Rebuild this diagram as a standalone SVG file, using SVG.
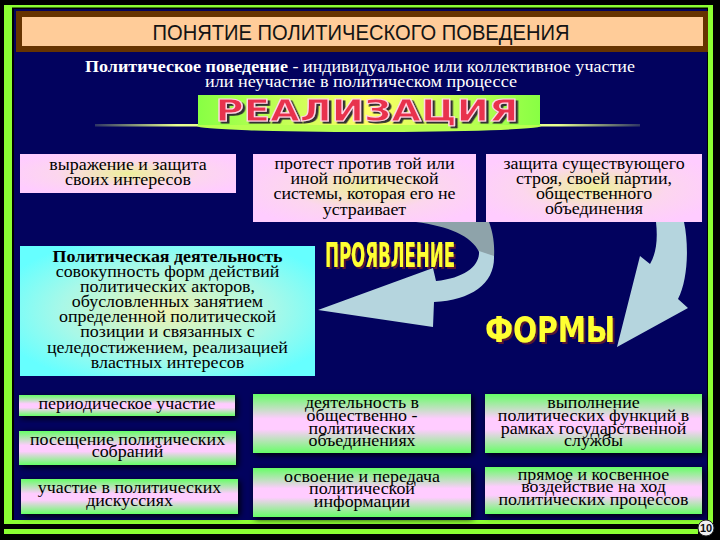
<svg xmlns="http://www.w3.org/2000/svg" width="720" height="540" viewBox="0 0 720 540">
<defs>
<style>
.sv{font-family:"Liberation Serif","Times New Roman",serif;font-size:16px;fill:#000;text-anchor:middle}
.b{font-weight:bold}
.wt{font-family:"Liberation Serif","Times New Roman",serif;font-size:17.5px;fill:#fff;text-anchor:middle}
.yl{font-family:"Liberation Sans Narrow","DejaVu Sans Condensed","Liberation Sans",sans-serif;font-weight:bold;text-anchor:start;fill:#ffff33}
.green{fill:#8cff32}
.pk{fill:url(#pinkG)}
.fm{fill:url(#formG);filter:url(#sh)}
.arL{fill:#b5d5de}
.arG{fill:#8ea3aa}
</style>
<radialGradient id="pinkG" cx="0.5" cy="0.5" r="0.6">
<stop offset="0" stop-color="#eef09a"/>
<stop offset="0.55" stop-color="#fcd6ee"/>
<stop offset="1" stop-color="#ffccff"/>
</radialGradient>
<radialGradient id="cyanG" cx="0.5" cy="0.5" r="0.6">
<stop offset="0" stop-color="#eef2b0"/>
<stop offset="0.6" stop-color="#a8f8e8"/>
<stop offset="1" stop-color="#66ffff"/>
</radialGradient>
<linearGradient id="formG" x1="0" y1="0" x2="0" y2="1">
<stop offset="0" stop-color="#66ff66"/>
<stop offset="0.42" stop-color="#ffccff"/>
<stop offset="0.6" stop-color="#ffccff"/>
<stop offset="1" stop-color="#66ff66"/>
</linearGradient>
<linearGradient id="banG" x1="0" y1="0" x2="1" y2="0">
<stop offset="0" stop-color="#88ff44"/>
<stop offset="0.5" stop-color="#ffff66"/>
<stop offset="1" stop-color="#88ff44"/>
</linearGradient>
<linearGradient id="lineG" x1="0" y1="0" x2="1" y2="0">
<stop offset="0" stop-color="#e0ff80" stop-opacity="0.2"/>
<stop offset="0.15" stop-color="#e8ff90"/>
<stop offset="0.85" stop-color="#e8ff90"/>
<stop offset="1" stop-color="#e0ff80" stop-opacity="0.2"/>
</linearGradient>
<filter id="sh" x="-10%" y="-30%" width="120%" height="160%">
<feDropShadow dx="2" dy="2" stdDeviation="3" flood-color="#000" flood-opacity="1"/>
</filter>
<filter id="tsGray" x="-5%" y="-20%" width="115%" height="150%">
<feDropShadow dx="2.5" dy="2" stdDeviation="0.4" flood-color="#333" flood-opacity="1"/>
</filter>
<filter id="tsRed" x="-5%" y="-20%" width="115%" height="150%">
<feDropShadow dx="2" dy="2" stdDeviation="0.4" flood-color="#5a1630" flood-opacity="1"/>
</filter>
</defs>

<!-- background and frame -->
<rect x="0" y="0" width="720" height="540" fill="#000"/>
<rect x="14" y="9" width="693" height="511" fill="#02025e"/>
<rect class="green" x="4" y="5" width="709" height="2.5"/>
<rect class="green" x="4" y="5" width="8" height="519"/>
<rect class="green" x="708" y="5" width="5" height="519"/>
<rect class="green" x="4" y="520" width="709" height="4"/>
<rect class="green" x="4" y="529" width="694" height="5"/>

<g id="title">
<rect x="16" y="11" width="692" height="41" fill="#663300"/>
<rect x="22" y="17" width="681" height="29" fill="#ffcc99"/>
<text x="361" y="40" textLength="417" lengthAdjust="spacingAndGlyphs" style="font-family:'Liberation Sans',Arial,sans-serif;font-size:22px;fill:#141414;text-anchor:middle">ПОНЯТИЕ ПОЛИТИЧЕСКОГО ПОВЕДЕНИЯ</text>
</g>

<g id="definition">
<text class="wt" x="360" y="72" textLength="550" lengthAdjust="spacingAndGlyphs"><tspan class="b">Политическое поведение</tspan> - индивидуальное или коллективное участие</text>
<text class="wt" x="361" y="87" textLength="312" lengthAdjust="spacingAndGlyphs">или неучастие в политическом процессе</text>
</g>

<g id="banner">
<rect x="95" y="124" width="545" height="2.5" fill="url(#lineG)"/>
<ellipse cx="369" cy="126" rx="172" ry="6" fill="#b8ff50"/>
<rect x="198" y="95" width="342" height="30" fill="url(#banG)"/>
<text x="215.5" y="121" textLength="303" lengthAdjust="spacingAndGlyphs" filter="url(#tsGray)" style="font-family:'DejaVu Sans',sans-serif;font-weight:bold;font-size:30px;fill:#e8334e;stroke:#ffd6e6;stroke-width:1.1">РЕАЛИЗАЦИЯ</text>
</g>

<g id="connectors">
<path class="arG" d="M416 222 C448 226 472 236 479 252 L494 257 C495 242 492 230 489 222 Z"/>
<path class="arL" d="M479 251 C480 265 466 278 436 281 L433 268 L318 310 L433 327 L434 302 C472 300 495 283 494 256 Z"/>
<path class="arL" d="M656 222 C658 240 656 254 650 264 L640 256 L617 347 L688 308 L678 299 C688 280 689 245 684 222 Z"/>
</g>

<g id="box-interests">
<rect class="pk" x="20" y="154" width="216" height="39"/>
<g transform="translate(128 0) scale(1.12 1)">
<text class="sv" x="0" y="170">выражение и защита</text>
<text class="sv" x="0" y="185">своих интересов</text>
</g>
</g>

<g id="box-protest">
<rect class="pk" x="253" y="154" width="223" height="68"/>
<g transform="translate(364.5 0) scale(1.12 1)">
<text class="sv" x="0" y="169">протест против той или</text>
<text class="sv" x="0" y="184">иной политической</text>
<text class="sv" x="0" y="199.5">системы, которая его не</text>
<text class="sv" x="0" y="215">устраивает</text>
</g>
</g>

<g id="box-defense">
<rect class="pk" x="486" y="154" width="216" height="68"/>
<g transform="translate(594 0) scale(1.12 1)">
<text class="sv" x="0" y="169">защита существующего</text>
<text class="sv" x="0" y="184">строя, своей партии,</text>
<text class="sv" x="0" y="199">общественного</text>
<text class="sv" x="0" y="214">объединения</text>
</g>
</g>

<g id="box-activity">
<rect x="20" y="246" width="295" height="130" fill="url(#cyanG)"/>
<g transform="translate(167.5 0) scale(1.12 1)">
<text class="sv b" x="0" y="262">Политическая деятельность</text>
<text class="sv" x="0" y="277">совокупность форм действий</text>
<text class="sv" x="0" y="292">политических акторов,</text>
<text class="sv" x="0" y="307.5">обусловленных занятием</text>
<text class="sv" x="0" y="322.5">определенной политической</text>
<text class="sv" x="0" y="337.5">позиции и связанных с</text>
<text class="sv" x="0" y="353">целедостижением, реализацией</text>
<text class="sv" x="0" y="368">властных интересов</text>
</g>
</g>

<g id="label-manifestation">
<text class="yl" x="325" y="267" textLength="130" lengthAdjust="spacingAndGlyphs" filter="url(#tsRed)" style="font-size:34px">ПРОЯВЛЕНИЕ</text>
</g>

<g id="label-forms">
<text class="yl" x="485" y="342" textLength="130" lengthAdjust="spacingAndGlyphs" filter="url(#tsRed)" style="font-size:35px">ФОРМЫ</text>
</g>

<g id="form-periodic">
<rect class="fm" x="19" y="395" width="216" height="21"/>
<g transform="translate(127 0) scale(1.12 1)">
<text class="sv" x="0" y="409.5">периодическое участие</text>
</g>
</g>
<g id="form-meetings">
<rect class="fm" x="19" y="431" width="217" height="34"/>
<g transform="translate(127.5 0) scale(1.12 1)">
<text class="sv" x="0" y="445">посещение политических</text>
<text class="sv" x="0" y="457.5">собраний</text>
</g>
</g>
<g id="form-discussions">
<rect class="fm" x="21" y="479" width="217" height="35"/>
<g transform="translate(129.5 0) scale(1.12 1)">
<text class="sv" x="0" y="493">участие в политических</text>
<text class="sv" x="0" y="506">дискуссиях</text>
</g>
</g>
<g id="form-associations">
<rect class="fm" x="253" y="394" width="218" height="59"/>
<g transform="translate(362 0) scale(1.12 1)">
<text class="sv" x="0" y="408">деятельность в</text>
<text class="sv" x="0" y="421">общественно -</text>
<text class="sv" x="0" y="434">политических</text>
<text class="sv" x="0" y="446.5">объединениях</text>
</g>
</g>
<g id="form-service">
<rect class="fm" x="485" y="394" width="217" height="59"/>
<g transform="translate(593.5 0) scale(1.12 1)">
<text class="sv" x="0" y="408">выполнение</text>
<text class="sv" x="0" y="421">политических функций в</text>
<text class="sv" x="0" y="434">рамках государственной</text>
<text class="sv" x="0" y="446.5">службы</text>
</g>
</g>
<g id="form-information">
<rect class="fm" x="253" y="468" width="218" height="49"/>
<g transform="translate(362 0) scale(1.12 1)">
<text class="sv" x="0" y="482">освоение и передача</text>
<text class="sv" x="0" y="494.5">политической</text>
<text class="sv" x="0" y="507.5">информации</text>
</g>
</g>
<g id="form-influence">
<rect class="fm" x="485" y="467" width="217" height="47"/>
<g transform="translate(593.5 0) scale(1.12 1)">
<text class="sv" x="0" y="480">прямое и косвенное</text>
<text class="sv" x="0" y="492">воздействие на ход</text>
<text class="sv" x="0" y="505">политических процессов</text>
</g>
</g>

<g id="page-number">
<circle cx="706" cy="528" r="8" fill="#f0f0f0" stroke="#222" stroke-width="1"/>
<text x="706" y="532" style="font-family:'Liberation Sans',Arial,sans-serif;font-weight:bold;font-size:11px;fill:#111;text-anchor:middle">10</text>
</g>
</svg>
